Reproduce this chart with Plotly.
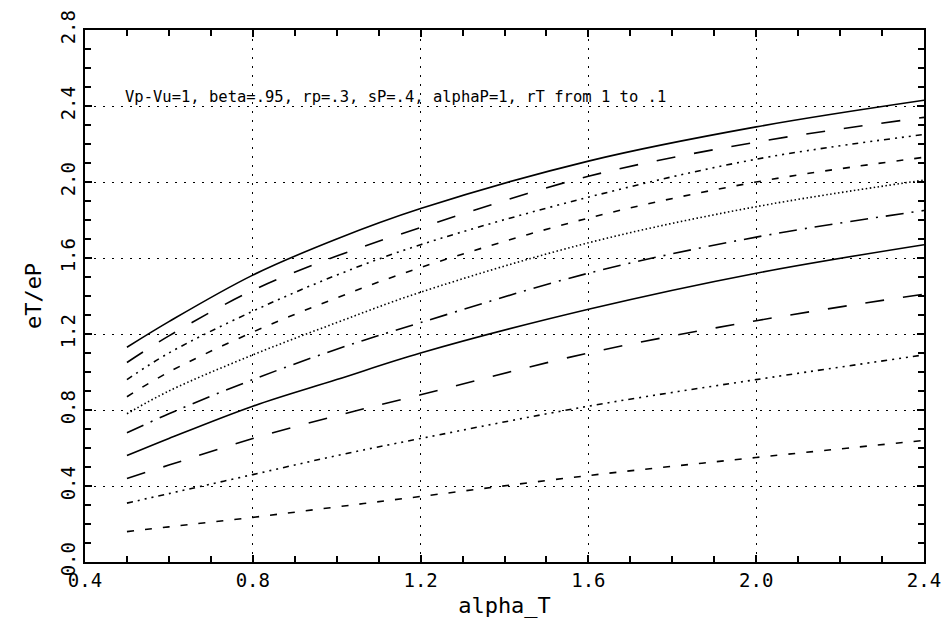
import plotly.graph_objects as go

# alpha_T sample points
alpha_t = [0.5, 0.6, 0.8, 1.0, 1.2, 1.6, 2.0, 2.4]

# eT/eP for rT going from 1 down to .1 (top curve first)
rt_10 = [1.13, 1.265, 1.51, 1.70, 1.86, 2.11, 2.29, 2.43]
rt_09 = [1.05, 1.19, 1.43, 1.61, 1.76, 2.03, 2.21, 2.34]
rt_08 = [0.96, 1.10, 1.32, 1.51, 1.67, 1.92, 2.12, 2.25]
rt_07 = [0.87, 1.00, 1.21, 1.39, 1.55, 1.81, 2.00, 2.13]
rt_06 = [0.78, 0.90, 1.09, 1.26, 1.42, 1.68, 1.87, 2.01]
rt_05 = [0.68, 0.78, 0.96, 1.12, 1.26, 1.52, 1.71, 1.85]
rt_04 = [0.56, 0.65, 0.82, 0.96, 1.10, 1.33, 1.52, 1.67]
rt_03 = [0.44, 0.51, 0.65, 0.77, 0.88, 1.10, 1.27, 1.41]
rt_02 = [0.31, 0.36, 0.46, 0.56, 0.65, 0.82, 0.96, 1.09]
rt_01 = [0.16, 0.185, 0.235, 0.29, 0.345, 0.455, 0.55, 0.64]

curves = [rt_10, rt_09, rt_08, rt_07, rt_06, rt_05, rt_04, rt_03, rt_02, rt_01]

# idl-like line styles, cycling
styles = ["solid", "19px,19px", "6px,5px,2px,5px,2px,5px,2px,5px", "7px,11px",
          "1.5px,2.5px", "18px,8px,2px,8px",
          "solid", "19px,19px", "6px,5px,2px,5px,2px,5px,2px,5px", "7px,11px"]

fig = go.Figure()
for ys, st in zip(curves, styles):
    fig.add_trace(go.Scatter(x=alpha_t, y=ys, mode="lines", line_shape="spline",
                             line=dict(color="black", width=1.6, dash=st),
                             showlegend=False, hoverinfo="skip"))

mono = "DejaVu Sans Mono"
axis_font = dict(family=mono, size=19, color="black")
title_font = dict(family=mono, size=22, color="black")
common = dict(showline=True, linecolor="black", linewidth=2, mirror="ticks",
              ticks="inside", ticklen=7, tickcolor="black", tickwidth=1.5,
              showgrid=True, gridcolor="black", gridwidth=1, griddash="2px,7px",
              zeroline=False, tickfont=axis_font, automargin=False,
              minor=dict(ticks="inside", ticklen=6, tickcolor="black", showgrid=False))

fig.update_xaxes(range=[0.4, 2.4], dtick=0.4, tick0=0.4, tickformat=".1f",
                 title=dict(text="alpha_T", font=title_font, standoff=8), **common)
fig.update_yaxes(range=[0.0, 2.8], dtick=0.4, tick0=0.0, tickformat=".1f", tickangle=-90,
                 title=dict(text="eT/eP", font=title_font, standoff=10), **common)

fig.add_annotation(text="Vp-Vu=1, beta=.95, rp=.3, sP=.4, alphaP=1, rT from 1 to .1",
                   xref="paper", yref="paper", x=0.045, y=0.874, xanchor="left", yanchor="middle",
                   showarrow=False, font=dict(family=mono, size=15.5, color="black"))

# page body adds 8px, so margins are shifted to keep the plot box at 85..924 / 30..562
fig.update_layout(width=951, height=640, plot_bgcolor="white", paper_bgcolor="white",
                  margin=dict(l=77, r=35, t=22, b=86))

fig.write_html("out.html")
